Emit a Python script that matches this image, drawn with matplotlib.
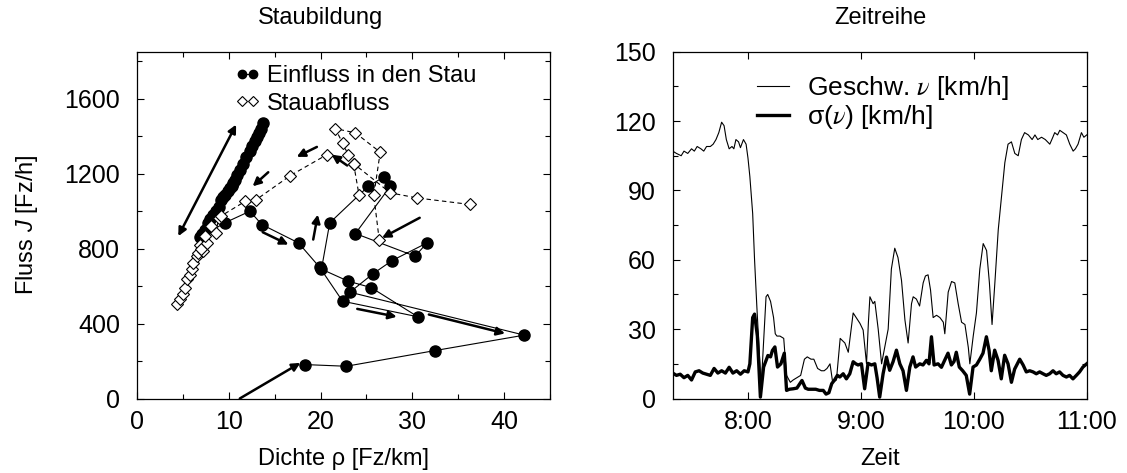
import matplotlib
matplotlib.use('Agg')
import matplotlib.pyplot as plt
import numpy as np
from matplotlib.lines import Line2D
from matplotlib.font_manager import FontProperties
from matplotlib.ticker import MultipleLocator, FixedLocator

plt.rcParams['font.family'] = ['Liberation Sans', 'DejaVu Sans']
plt.rcParams['font.size'] = 17
plt.rcParams['mathtext.fontset'] = 'custom'
plt.rcParams['mathtext.rm'] = 'Liberation Sans'
plt.rcParams['mathtext.it'] = 'Liberation Sans:italic'

nan = np.nan

# ---------------- left panel data: density [Fz/km], flow [Fz/h] ----------------
inflow_density = [13.75, 13.5, 13.3, 13.1, 12.9, 12.5, 12.3, 11.9, 11.5, 11.2, 10.9, 10.7,
                  10.5, 10.3, 10.1, 9.9, 9.6, 9.4, 9.2, 8.9, 8.6, 8.3, 8.0, 7.7, 7.4, 7.1,
                  6.9, 9.6, 12.3, 13.6, 17.6, 19.9, 22.4, 30.6, 25.5, 23.0, 20.1, 21.0,
                  25.2, 26.9, 27.6, 23.8, 30.3, 31.6, 27.8, 25.7, 23.2, 42.2, 32.5, 22.8, 18.3]
inflow_flow = [1468, 1440, 1417, 1395, 1372, 1345, 1319, 1290, 1250, 1217, 1190, 1168,
               1150, 1135, 1125, 1105, 1088, 1075, 1061, 1024, 1000, 981, 960, 938, 901, 880,
               860, 938, 999, 928, 830, 700, 519, 436, 592, 626, 690, 937,
               1132, 1182, 1132, 880, 759, 830, 736, 665, 567, 338, 256, 172, 181]

outflow_density = [4.4, 4.7, 5.0, 5.2, 5.4, 5.8, 6.0, 6.1, 6.5, 6.7, 6.9, 7.2, 7.0, 7.6,
                   7.4, 8.1, 8.6, 8.9, 9.1, 11.8, 13.0, 16.7, 20.7, nan,
                   26.4, 25.8, 26.5, 23.8, 21.6, 22.4, 23.0, 23.6, 27.6, 30.5, 36.3, nan,
                   23.6, 24.2]
outflow_flow = [505, 530, 560, 590, 635, 660, 690, 723, 759, 777, 821, 786, 800, 830,
                866, 919, 883, 963, 972, 1052, 1061, 1189, 1301, nan,
                843, 1083, 1314, 1417, 1440, 1363, 1301, 1253, 1097, 1070, 1035, nan,
                1253, 1083]

# annotation arrows (start -> end, data coords)
arrow_x0 = [4.5, 13.7, 19.2, 14.3, 19.6, 22.9, 30.8, 24.0, 31.8, 11.2]
arrow_y0 = [866, 887, 848, 1207, 1342, 1243, 964, 478, 448, 0]
arrow_x1 = [10.8, 16.5, 19.7, 12.6, 17.4, 21.2, 26.7, 28.3, 40.1, 17.8]
arrow_y1 = [1461, 821, 981, 1132, 1289, 1301, 857, 436, 347, 190]
arrow_both = [True, False, False, False, False, False, False, False, False, False]

# ---------------- right panel data: time [min after 7:00] ----------------
speed_time = [20, 22, 24.5, 26, 28, 30, 31.5, 33, 35, 36.5, 38, 40, 41.5, 43, 44.5, 46,
              47.3, 48.5, 50, 51.5, 52.5, 53.6, 55, 56, 57.6, 59, 60, 61, 62.5, 63.5,
              64.7, 66, 67, 68, 69.6, 70.5, 72, 73.6, 74.5, 75.4, 77, 79, 80.5, 82.5,
              84, 86, 88, 90, 91.5, 93.5, 95, 97, 99, 100.5, 102, 103.6, 105, 107, 109,
              111.5, 113.3, 115.9, 117.5, 119.5, 121.2, 123, 124, 124.8, 126.5, 127.4,
              129.2, 131, 134.5, 136.2, 138, 139.7, 141.6, 143.4, 145.1, 146.9, 147.8,
              149.5, 151.2, 153.1, 154.3, 155.7, 157, 158.4, 160.2, 162, 163.8, 164.6,
              166.4, 168.2, 169.9, 171.7, 173.5, 175.3, 177.1, 177.9, 179.7, 181.4,
              183.2, 185, 186.8, 188.3, 189.7, 191.2, 193, 194.8, 196.5, 198.2, 200,
              201.8, 203.6, 205.3, 207, 209, 211, 212.5, 214, 216, 218, 220.4, 222, 223,
              224.5, 225.7, 227.5, 229.2, 231, 232.8, 234, 235.4, 237.2, 238.5, 240]
speed_value = [107, 106, 105, 107, 106, 108, 107, 109, 108, 107, 109, 109, 110, 112, 115,
               119.5, 118, 112, 108, 109, 108, 112, 111, 108.5, 112, 110, 104, 96, 80, 60,
               40, 20, 5, 20, 44, 45, 42, 35, 28, 27, 27, 26, 10, 7,
               8, 9, 10, 17, 18, 17, 17, 13, 12, 12, 13, 15, 7, 8, 26,
               24, 20, 37, 35, 32.5, 29.6, 15, 33, 44, 41, 42,
               30, 15, 30, 56, 65, 61, 51, 34, 24, 41, 44,
               43, 40, 50, 53, 53.5, 47, 35, 36, 35, 33, 28,
               46, 50.6, 50, 41, 33, 32, 22, 15, 27, 37,
               56, 67, 64, 50, 32, 50, 73, 88, 102, 110, 111,
               106, 105, 112, 115, 114, 112, 114, 112, 113, 112, 110, 113, 115,
               114, 116, 115, 114, 110, 107, 108, 110, 115, 113, 114]

sigma_time = [20, 22, 24, 26, 28, 30, 32, 34, 36, 38, 40, 42, 44, 46, 48, 50, 52, 54, 56,
              58, 60, 61, 62.5, 63.5, 65, 66.6, 68.3, 70.6, 72, 73, 74.3, 75.7, 77.5,
              79.3, 80.5, 82, 84, 86, 88.7, 90.5, 92, 94, 96, 98, 100, 101.5, 103,
              104.5, 106, 107.5, 108.8, 110.6, 112.3, 114.1, 115.9, 117.3, 118.5, 120.3,
              122, 123.8, 125.6, 127.4, 128.6, 130, 131.8, 133.6, 135.3, 137.1, 138.9,
              140.7, 142.4, 144.2, 146, 147.7, 149.1, 151.3, 153, 154.8, 156.2, 157.5,
              158.9, 161, 162.8, 164.5, 166.3, 168.1, 169.5, 170.7, 172.3, 174.1, 176,
              177.8, 179.6, 181.4, 183.2, 184.9, 186.7, 188.1, 189.3, 191.1, 192.9,
              194.6, 196.4, 198.2, 200, 201.7, 204.4, 206.2, 207.9, 209.7, 211.5,
              213.2, 215, 216.8, 218.5, 220.3, 222.1, 223.8, 225.6, 227.4, 229.2, 230.9,
              232.7, 234.5, 236.2, 238, 240]
sigma_value = [11, 10, 10.5, 9, 10, 8, 11.5, 12, 11, 10.5, 10, 13, 11, 12, 11, 13.5, 11, 12,
               10.5, 12, 11.5, 15, 35, 36.5, 27, 0.6, 13.6, 18.6, 18, 20.8, 22.3, 13.6, 15,
               19.6, 3.5, 4, 4.2, 4.5, 7.8, 4.5, 4, 4, 4, 3.5, 3.5, 1.9, 2.5,
               6.4, 8, 10, 9.3, 10.7, 8.5, 10.7, 15.9, 15, 14.5, 15,
               4.2, 15.2, 14.5, 15, 9, 0.6, 10.7, 17.9, 12.2, 15.9, 20.9,
               15, 12, 3.5, 13.6, 18, 13.6, 15, 14.5, 16.5, 15, 26.7,
               14.5, 15, 13.5, 16.5, 19.6, 14.5, 16, 20, 13.6, 12, 10,
               1.9, 13.6, 14.5, 17, 19.6, 26.7, 20.9, 12, 20.9, 16.5,
               8.5, 18.7, 15, 7, 12.7, 17, 14.5, 11.5, 12, 11.5,
               10.7, 11.5, 10.7, 10, 10.7, 12, 10.7, 11.5, 10, 9.3, 10,
               8.5, 10, 11.5, 13.6, 15]

time_ticks = [60, 120, 180, 240]
time_tick_labels = ['8:00', '9:00', '10:00', '11:00']

# ---------------- figure ----------------
W, H = 1127, 473
fig = plt.figure(figsize=(W / 100, H / 100), dpi=100)
ax1 = fig.add_axes([137 / W, 1 - 398.5 / H, 413 / W, 346.8 / H])
ax2 = fig.add_axes([672.7 / W, 1 - 398.5 / H, 414 / W, 346.8 / H])

# left panel
ax1.plot(inflow_density, inflow_flow, '-', color='k', lw=0.8, marker='o', ms=8,
         mfc='k', mec='k', zorder=3)
ax1.plot(outflow_density, outflow_flow, ls=(0, (4, 3)), color='k', lw=0.8, marker='D',
         ms=6.5, mfc='white', mec='k', mew=0.8, zorder=4)
for x0, y0, x1, y1, both in zip(arrow_x0, arrow_y0, arrow_x1, arrow_y1, arrow_both):
    ax1.annotate('', xy=(x1, y1), xytext=(x0, y0),
                 arrowprops=dict(arrowstyle='<|-|>' if both else '-|>', color='k',
                                 lw=1.8, mutation_scale=12, shrinkA=0, shrinkB=0),
                 zorder=5)
ax1.set_xlim(0, 45)
ax1.set_ylim(0, 1850)
ax1.xaxis.set_major_locator(MultipleLocator(10))
ax1.xaxis.set_minor_locator(MultipleLocator(5))
ax1.yaxis.set_major_locator(MultipleLocator(400))
ax1.yaxis.set_minor_locator(MultipleLocator(200))
ax1.set_xlabel('Dichte ρ [Fz/km]', labelpad=10)
ax1.set_ylabel('Fluss $J$ [Fz/h]', labelpad=18)

h_in = Line2D([], [], color='k', lw=0.8, marker='o', ms=6, mfc='k', mec='k')
h_out = Line2D([], [], color='k', lw=0.8, ls='none', marker='D', ms=5,
               mfc='white', mec='k', mew=0.8)
ax1.legend([h_in, h_out], ['Einfluss in den Stau', 'Stauabfluss'], loc='upper left',
           bbox_to_anchor=(0.225, 0.975), frameon=False, numpoints=2, handlelength=1.07,
           handletextpad=0.3, labelspacing=0.23, borderpad=0.2, borderaxespad=0)

# right panel
ax2.plot(speed_time, speed_value, '-', color='k', lw=0.8, label='Geschw. $\\nu$ [km/h]')
ax2.plot(sigma_time, sigma_value, '-', color='k', lw=2.4, label='σ($\\nu$) [km/h]')
ax2.set_xlim(20, 240)
ax2.set_ylim(0, 150)
ax2.xaxis.set_major_locator(FixedLocator(time_ticks))
ax2.set_xticklabels(time_tick_labels)
ax2.yaxis.set_major_locator(MultipleLocator(30))
ax2.yaxis.set_minor_locator(MultipleLocator(15))
ax2.set_xlabel('Zeit', labelpad=10)
leg_prop = FontProperties(family='Liberation Sans', size=19, math_fontfamily='stix')
ax2.legend(loc='upper left', bbox_to_anchor=(0.19, 0.95), frameon=False, prop=leg_prop,
           handlelength=1.22, handletextpad=0.68, labelspacing=0.02, borderpad=0.2,
           borderaxespad=0)

for ax in (ax1, ax2):
    ax.tick_params(which='both', direction='in', top=True, right=True, width=0.8)
    ax.tick_params(which='major', length=5, labelsize=18)
    ax.tick_params(which='minor', length=3.5)
    ax.tick_params(axis='y', pad=12)
    ax.tick_params(axis='x', pad=8)
    for s in ax.spines.values():
        s.set_linewidth(0.9)

fig.text(321 / W, 1 - 18 / H, 'Staubildung', ha='center', va='center', fontsize=17)
fig.text(880 / W, 1 - 18 / H, 'Zeitreihe', ha='center', va='center', fontsize=17)

fig.savefig('out.png', dpi=100)
